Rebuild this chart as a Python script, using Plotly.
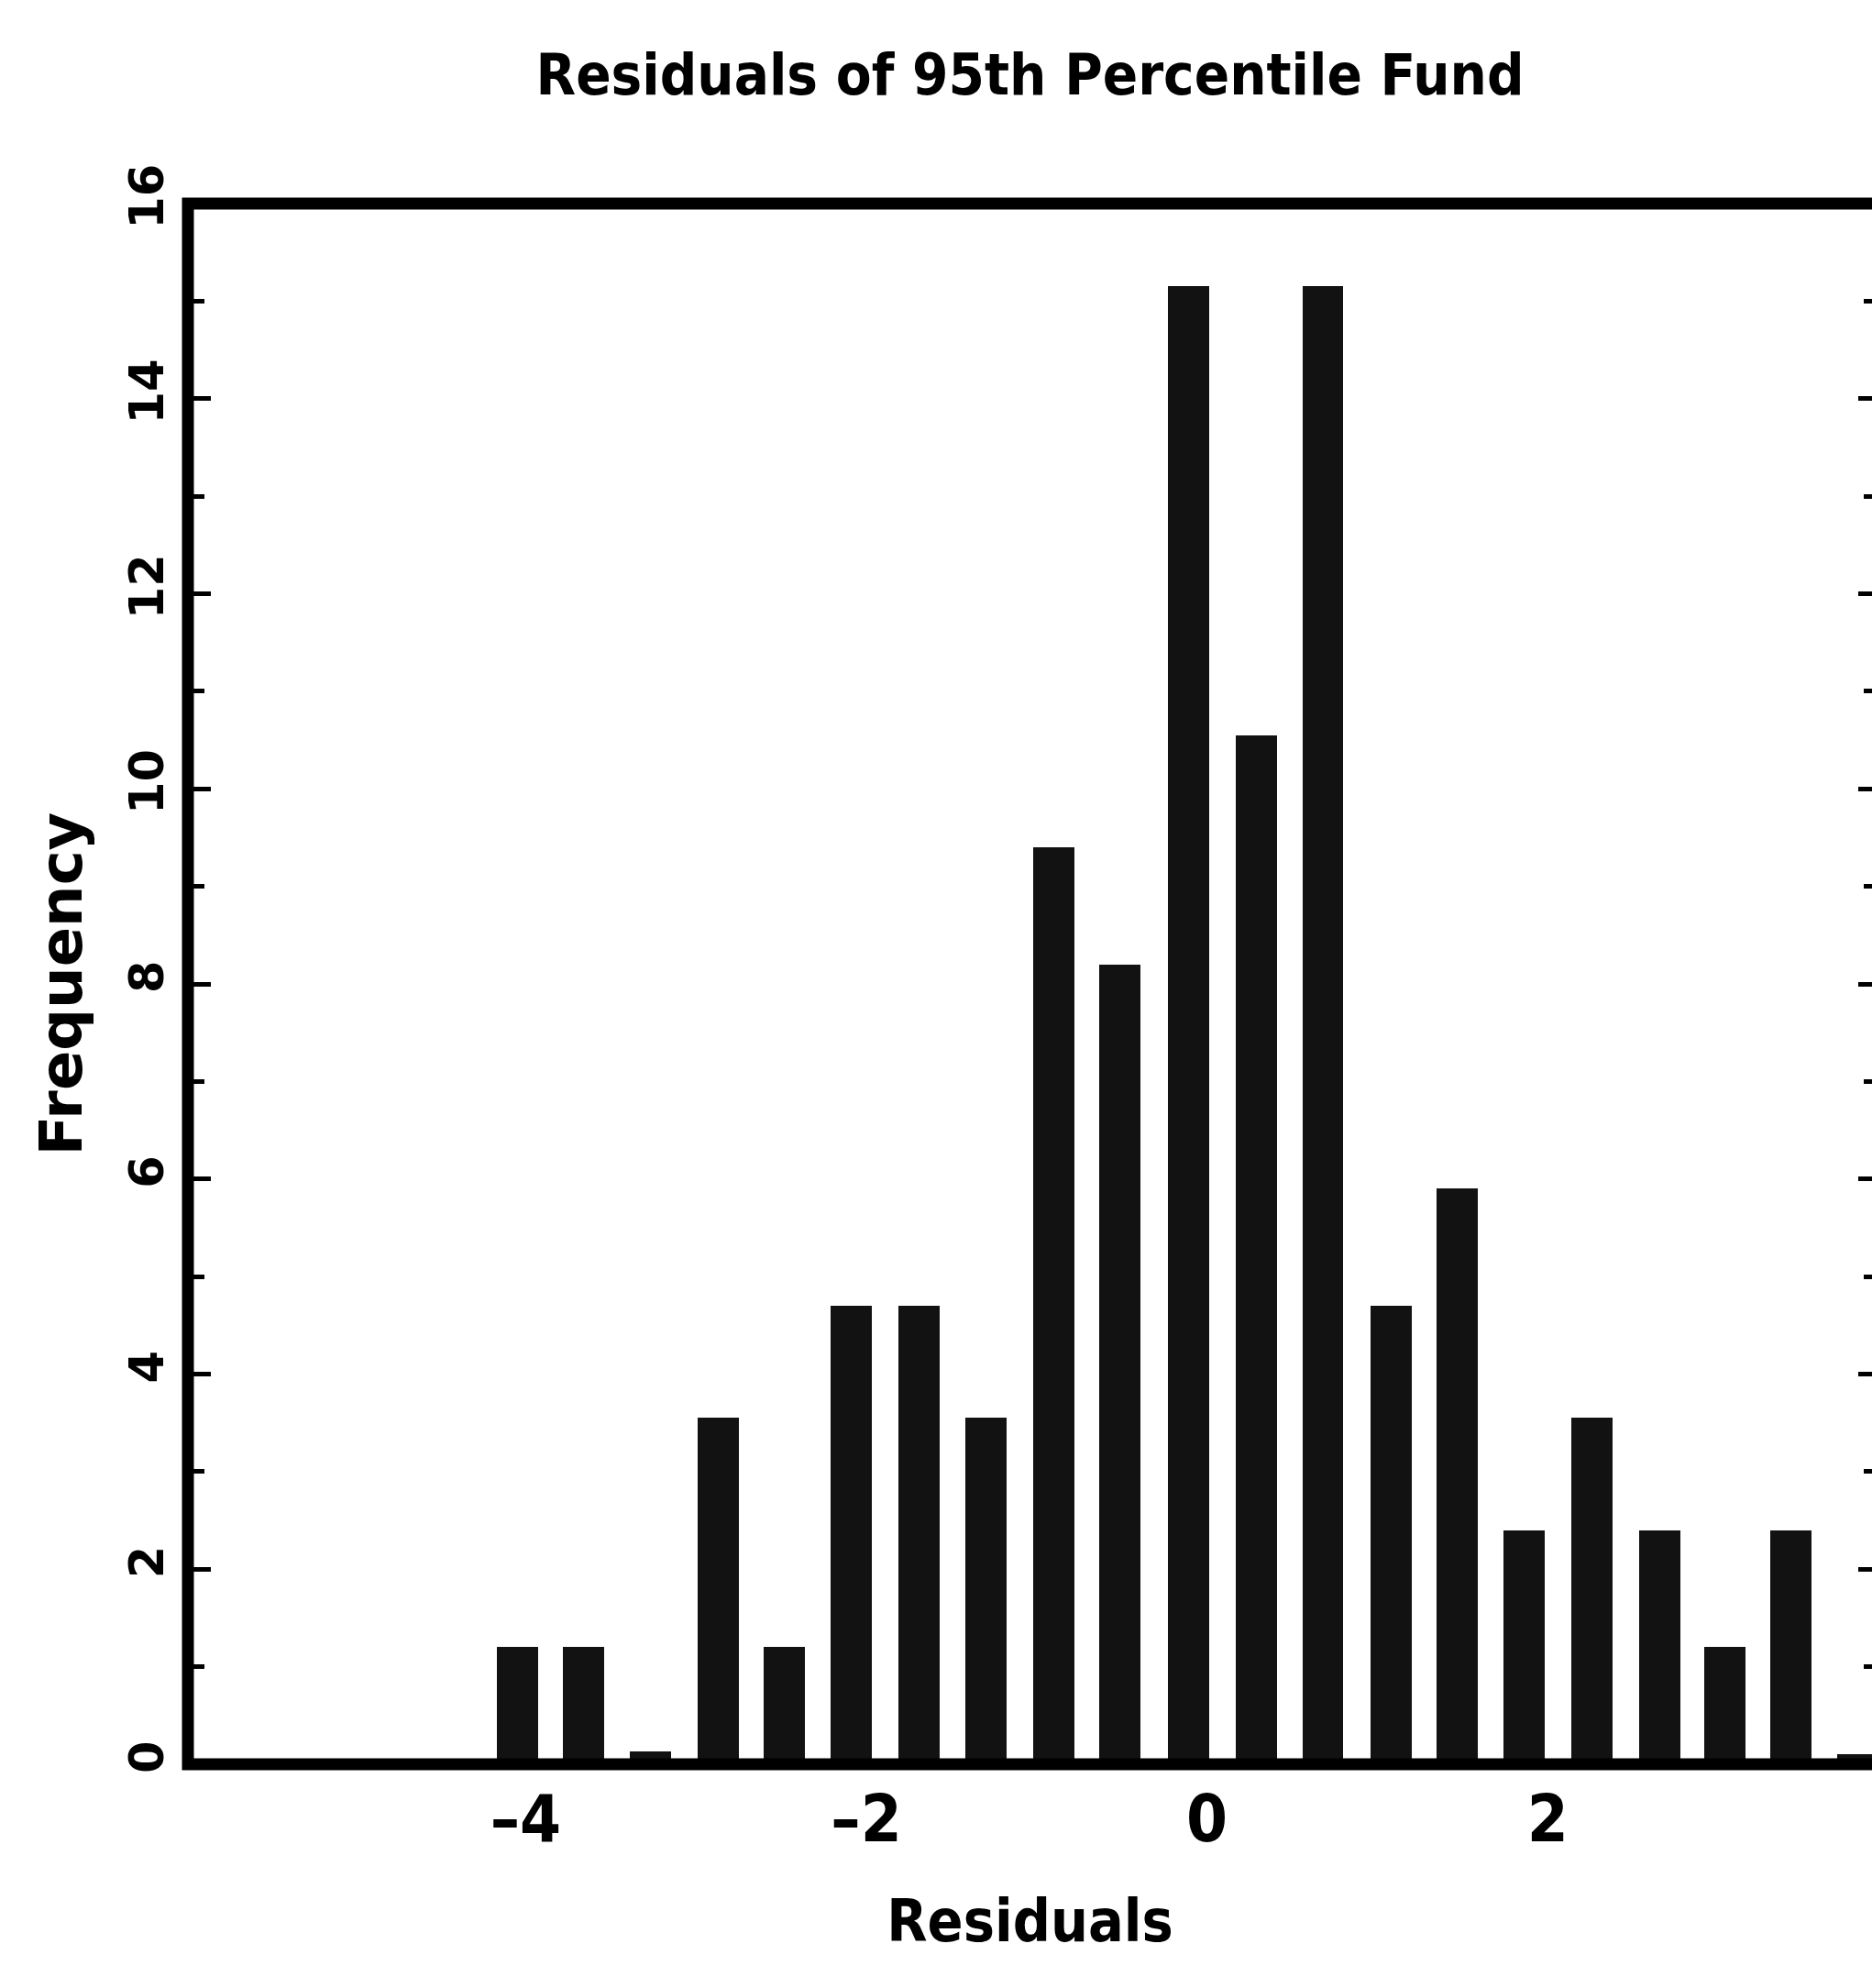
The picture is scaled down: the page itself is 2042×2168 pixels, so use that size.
import plotly.graph_objects as go

# Data
bin_centers = [-4.05, -3.66, -3.27, -2.87, -2.48, -2.09, -1.69, -1.30, -0.90, -0.51,
               -0.11, 0.29, 0.68, 1.08, 1.47, 1.86, 2.26, 2.66, 3.04, 3.43, 3.82]
frequencies = [1.2, 1.2, 0.13, 3.55, 1.2, 4.7, 4.7, 3.55, 9.4, 8.2,
               15.15, 10.55, 15.15, 4.7, 5.9, 2.4, 3.55, 2.4, 1.2, 2.4, 0.1]
x_tick_vals = [-4, -2, 0, 2]
x_tick_text = ["–4", "–2", "0", "2"]
y_tick_vals = [0, 2, 4, 6, 8, 10, 12, 14, 16]

W, H = 2042, 2168
L, R, T, B = 205, 0, 222, 2168 - 1924

NARROW = "Liberation Sans Narrow, DejaVu Sans Condensed, Arial Narrow, sans-serif"
WIDE = "DejaVu Sans, Liberation Sans, sans-serif"

fig = go.Figure()
fig.add_trace(go.Bar(
    x=bin_centers, y=frequencies, width=0.242,
    marker=dict(color="#121212", line=dict(width=0)),
    showlegend=False, hoverinfo="x+y",
))
# invisible trace to anchor right-side tick axis
fig.add_trace(go.Scatter(x=[0], y=[0], yaxis="y2", mode="markers",
                         marker=dict(opacity=0), showlegend=False, hoverinfo="skip"))

fig.update_layout(
    width=W, height=H,
    margin=dict(l=L, r=R, t=T, b=B, pad=0),
    paper_bgcolor="white", plot_bgcolor="white",
    title=dict(text="<b>Residuals of 95th Percentile Fund</b>",
               x=0.5, xref="paper", xanchor="center",
               y=1 - 81 / H, yref="container", yanchor="middle",
               font=dict(family=NARROW, size=63, color="black")),
    xaxis=dict(range=[-5.983, 3.904], tickvals=x_tick_vals, ticktext=x_tick_text,
               ticks="", showline=False, showgrid=False, zeroline=False,
               ticklabelstandoff=11,
               tickfont=dict(family=NARROW, size=72, color="black", weight="bold"),
               title=dict(text="<b>Residuals</b>", standoff=48,
                          font=dict(family=NARROW, size=64, color="black")),
               automargin=False),
    yaxis=dict(range=[0, 16], tickvals=y_tick_vals, tickangle=-90,
               ticks="inside", ticklen=25, tickwidth=5, tickcolor="black",
               minor=dict(dtick=1, tick0=0, ticks="inside", ticklen=18, tickwidth=5,
                          tickcolor="black", showgrid=False),
               showline=False, showgrid=False, zeroline=False,
               ticklabelstandoff=16,
               tickfont=dict(family=WIDE, size=51, color="black", weight="bold"),
               title=dict(text="<b>Frequency</b>", standoff=20,
                          font=dict(family=WIDE, size=64, color="black")),
               automargin=False),
    yaxis2=dict(range=[0, 16], overlaying="y", side="right", anchor="x",
                tickvals=y_tick_vals, showticklabels=False,
                ticks="inside", ticklen=15, tickwidth=5, tickcolor="black",
                minor=dict(dtick=1, tick0=0, ticks="inside", ticklen=9, tickwidth=5,
                           tickcolor="black", showgrid=False),
                showline=False, showgrid=False, zeroline=False),
    shapes=[dict(type="rect", xref="paper", yref="paper", x0=0, x1=1.02, y0=0, y1=1,
                 line=dict(color="black", width=13), fillcolor="rgba(0,0,0,0)",
                 layer="above")],
    bargap=0,
)

fig.write_html("out.html")
